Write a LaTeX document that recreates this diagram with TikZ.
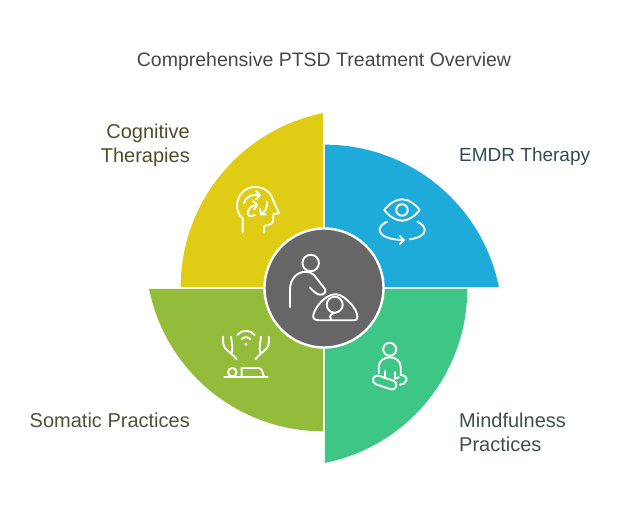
\documentclass[tikz,border=0pt]{standalone}
\usepackage{fontspec}
\setmainfont{Liberation Sans}
\definecolor{CogYellow}{HTML}{E0CC14}
\definecolor{EmdrBlue}{HTML}{1EABDA}
\definecolor{MindGreen}{HTML}{3EC686}
\definecolor{SomaOlive}{HTML}{93BC3A}
\definecolor{HubGrey}{HTML}{666666}
\tikzset{
  icon/.style={draw=white,line width=1.9pt,line cap=round,line join=round},
  lbl/.style={font=\fontsize{20}{24}\selectfont,inner sep=0pt}
}

\begin{document}
\begin{tikzpicture}[x=1pt,y=1pt]
  \useasboundingbox (-324,-225) rectangle (300,288);

  \fill[CogYellow] (-143.3,1) arc[start angle=180,end angle=101.4,radius=177.4] -- (-1,1) -- cycle;
  \fill[EmdrBlue]  (1,143.3) arc[start angle=90,end angle=11.4,radius=177.4] -- (1,1) -- cycle;
  \fill[MindGreen] (143.3,-1) arc[start angle=0,end angle=-78.6,radius=177.4] -- (1,-1) -- cycle;
  \fill[SomaOlive] (-1,-143.3) arc[start angle=-90,end angle=-168.6,radius=177.4] -- (-1,-1) -- cycle;

  \node[circle,draw=white,fill=HubGrey,line width=2.4pt,minimum size=119pt](hub) at (0,0) {};

  \node[anchor=center,yshift=226.5pt,xshift=0pt,lbl,font=\fontsize{19.5}{24}\selectfont,text=black!72](title) {Comprehensive PTSD Treatment Overview};
  \node[anchor=east,yshift=142.5pt,xshift=-134pt,lbl,align=right,text={rgb,255:red,79;green,75;blue,44}](cogn) {Cognitive\\Therapies};
  \node[anchor=west,yshift=131pt,xshift=135pt,lbl,font=\fontsize{19}{24}\selectfont,text={rgb,255:red,54;green,74;blue,82}](emdr) {EMDR Therapy};
  \node[anchor=west,yshift=-144pt,xshift=135pt,lbl,align=left,text={rgb,255:red,62;green,80;blue,72}](mind) {Mindfulness\\Practices};
  \node[anchor=east,yshift=-132pt,xshift=-134pt,lbl,text={rgb,255:red,76;green,82;blue,58}](soma) {Somatic Practices};

  % head
  \draw[icon] (-81.3,55.3) -- (-81.3,69.5) .. controls (-85,73) and (-87,77) .. (-87,82) .. controls (-87,93) and (-79,101) .. (-69,101) .. controls (-60,101) and (-53,96) .. (-51,88) -- (-45,74.7) -- (-50.7,74) -- (-50.7,69) .. controls (-50.7,65) and (-53,63) .. (-59.7,62) -- (-59.7,55.3);
  \draw[icon] (-80,84.7) .. controls (-79,91) and (-72,94) .. (-64,93);
  \draw[icon] (-68,97) -- (-64,93) -- (-68,88.5);
  \draw[icon] (-66.7,83) .. controls (-73,83) and (-77,78) .. (-76,74) .. controls (-75,71) and (-71,71) .. (-69,73);
  \draw[icon] (-71,87) -- (-66.7,83) -- (-70,78.5);
  \draw[icon] (-57.3,86.3) .. controls (-56,80) and (-59,76) .. (-63.3,73.7);
  \draw[icon] (-63.8,79) -- (-63.3,73.7) -- (-58,73.5);

  % eye
  \draw[icon] (60.3,78) .. controls (66,85) and (72,88.7) .. (78,88.7) .. controls (84,88.7) and (90,85) .. (95.7,78) .. controls (90,71) and (84,67.3) .. (78,67.3) .. controls (72,67.3) and (66,71) .. cycle;
  \node[circle,icon,minimum size=11.5pt,inner sep=0pt](pupil) at (78,78) {};
  \draw[icon] (63,66.3) .. controls (58,64) and (55.7,61) .. (55.7,58) .. controls (55.7,52) and (66,48) .. (80,48);
  \draw[icon] (75.7,52.3) -- (80,48) -- (75.7,43.7);
  \draw[icon] (93.3,66.3) .. controls (98,64) and (100.7,61) .. (100.7,58) .. controls (100.7,53) and (95,50) .. (85.7,48.7);

  % hands over body
  \fill[white] (-78,-56.3) circle[radius=1.7];
  \draw[icon] (-82.3,-51.3) .. controls (-80,-48.5) and (-76,-48.5) .. (-73.7,-51.3);
  \draw[icon] (-86.7,-47) .. controls (-83,-41.5) and (-73,-41.5) .. (-69.3,-47);
  \draw[icon] (-100.7,-48.7) .. controls (-101.5,-54) and (-101,-60) .. (-96,-63) .. controls (-94,-64.5) and (-91,-67) .. (-87.3,-71.3);
  \draw[icon] (-93,-48.7) .. controls (-92.5,-54) and (-90.5,-60) .. (-92.5,-65);
  \draw[icon] (-55.3,-48.7) .. controls (-54.5,-54) and (-55,-60) .. (-60,-63) .. controls (-62,-64.5) and (-65,-67) .. (-68.7,-71.3);
  \draw[icon] (-63,-48.7) .. controls (-63.5,-54) and (-65.5,-60) .. (-63.5,-65);
  \draw[icon] (-99.7,-88.7) -- (-56.3,-88.7);
  \node[circle,icon,minimum size=8.5pt,inner sep=0pt](patient) at (-91.7,-84.2) {};
  \draw[icon] (-82.3,-88.7) -- (-82.3,-80) -- (-65.5,-80) .. controls (-62.5,-80) and (-61.5,-84) .. (-60,-88.7);

  % sitting figure
  \node[circle,icon,minimum size=13pt,inner sep=0pt](sitter) at (65.7,-61.3) {};
  \draw[icon] (54.7,-85.3) -- (54.7,-79) .. controls (54.7,-73) and (60,-69.3) .. (65.7,-69.3) .. controls (71.5,-69.3) and (76.7,-73) .. (76.7,-79) -- (76.7,-86.5);
  \draw[icon,rounded corners=4.4pt,rotate around={-18.8:(60.7,-94.5)}] (48.5,-99) rectangle (72.9,-90);
  \draw[icon] (76.7,-87) .. controls (80,-87) and (83,-89) .. (82.5,-92) .. controls (82,-95) and (79,-96.7) .. (76,-96.7);
  \draw[icon] (60.7,-83) -- (60.7,-90.5);
  \draw[icon] (71,-84) -- (71,-90.7) -- (75,-89.3);

  % therapist and child
  \node[circle,icon,minimum size=16.5pt,inner sep=0pt](carer) at (-13.3,25) {};
  \draw[icon] (-34,-19.3) -- (-34,-1.7) .. controls (-34,9) and (-27,16) .. (-19,16.2) .. controls (-15,16.3) and (-12,15) .. (-10,13) -- (1,-1) .. controls (2.5,-4) and (0,-7) .. (-4,-6.7) .. controls (-7,-6.5) and (-10,-4) .. (-14.3,0.7);
  \draw[icon] (-5,-32.3) .. controls (-9.5,-32.3) and (-11.5,-30) .. (-10.7,-27) .. controls (-9,-20) and (-3,-13) .. (3,-9) .. controls (9,-5) and (15,-5.5) .. (20,-9.5) .. controls (26,-14) and (31.5,-20) .. (33,-26) .. controls (34,-30) and (33,-32.3) .. (30,-32.3) -- cycle;
  \node[circle,icon,minimum size=16pt,inner sep=0pt](child) at (10.7,-16.7) {};
  \draw[icon] (10,-25) .. controls (8,-26) and (6,-27) .. (6,-28.5) .. controls (6,-30) and (7,-31) .. (7.3,-32.3);
\end{tikzpicture}
\end{document}
